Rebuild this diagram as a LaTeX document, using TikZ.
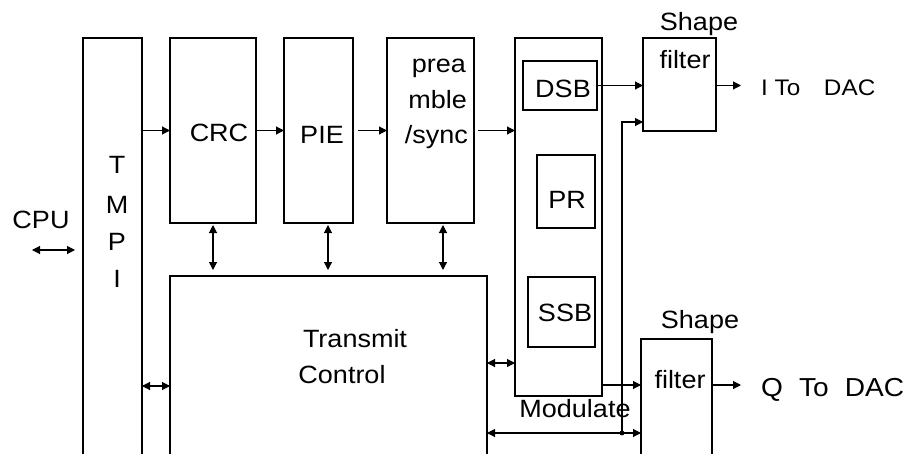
\documentclass[tikz,border=0pt]{standalone}
\usepackage{fontspec}
\setmainfont{Liberation Sans}[FakeStretch=1.08]
\usetikzlibrary{arrows.meta}
\begin{document}
\begin{tikzpicture}[x=1pt,y=-1pt,
  box/.style={draw, line width=1.3pt, inner sep=0pt, outer sep=0pt, anchor=north west},
  lbl/.style={anchor=base, inner sep=0pt, font=\fontsize{25}{29}\selectfont},
  arr/.style={line width=1.1pt, -{Triangle[length=8pt,width=8pt]}},
  darr/.style={line width=1.1pt, {Triangle[length=8pt,width=8pt]}-{Triangle[length=8pt,width=8pt]}}]
\useasboundingbox (0,0) rectangle (908,453);
\clip (0,0) rectangle (908,453);
% boxes
\node[box, minimum width=59pt, minimum height=440pt] (tmpi) at (83,38) {};
\node[box, minimum width=86pt, minimum height=185pt] (crc) at (170,38) {};
\node[box, minimum width=69pt, minimum height=185pt] (pie) at (284,38) {};
\node[box, minimum width=87pt, minimum height=185pt] (pre) at (387,38) {};
\node[box, minimum width=87pt, minimum height=358pt] (mod) at (515,38) {};
\node[box, minimum width=74pt, minimum height=49pt] (dsb) at (523,61) {};
\node[box, minimum width=58pt, minimum height=73pt] (pr) at (537,155) {};
\node[box, minimum width=67pt, minimum height=70pt] (ssb) at (528,277) {};
\node[box, minimum width=73pt, minimum height=93pt] (sf1) at (643,38) {};
\node[box, minimum width=71pt, minimum height=140pt] (sf2) at (641,339) {};
\node[box, minimum width=317pt, minimum height=200pt] (tc) at (170,276) {};
% labels
\node[lbl] (cpu) at (41,228) {CPU};
\node[lbl] (t1) at (117,173) {T};
\node[lbl] (t2) at (117,213) {M};
\node[lbl] (t3) at (117,250) {P};
\node[lbl] (t4) at (117,287) {I};
\node[lbl] (crct) at (219,141) {CRC};
\node[lbl] (piet) at (322,143) {PIE};
\node[lbl, anchor=base east] (pre1) at (466,72) {prea};
\node[lbl, anchor=base east] (pre2) at (467,108) {mble};
\node[lbl, anchor=base east] (pre3) at (468,143) {/sync};
\node[lbl] (dsbt) at (563,97) {DSB};
\node[lbl] (prt) at (567,208) {PR};
\node[lbl] (ssbt) at (565,321) {SSB};
\node[lbl] (shape1) at (699,30) {Shape};
\node[lbl] (filt1) at (685,68) {filter};
\node[lbl] (shape2) at (700,328) {Shape};
\node[lbl] (filt2) at (680,388) {filter};
\node[lbl] (modt) at (575,417) {Modulate};
\node[lbl] (trt) at (355,347) {Transmit};
\node[lbl] (ctt) at (342,383) {Control};
\node[lbl, anchor=base west, font=\fontsize{22.5}{26}\selectfont] (ilbl) at (761,95) {I\hspace{0.3em}To\hspace{1.05em}DAC};
\node[lbl, anchor=base west, font=\fontsize{26}{30}\selectfont] (qlbl) at (761,396) {Q\hspace{0.62em}To\hspace{0.62em}DAC};
% helper coordinates
\coordinate (cpuL) at (32,250);
\coordinate (cpuR) at (75,250);
\coordinate (xa) at (213,0);
\coordinate (xb) at (328,0);
\coordinate (xc) at (443,0);
\coordinate (ya) at (0,386);
\coordinate (yb) at (0,363);
\coordinate (yc) at (0,433);
\coordinate (yd) at (0,122);
\coordinate (ye) at (0,385);
\coordinate (dot) at (622,433);
\coordinate (iend) at (741,85.5);
\coordinate (qend) at (741,385);
% connectors
\draw[darr] (cpuL) -- (cpuR);
\draw[arr] (tmpi.east |- crc.west) -- (crc.west);
\draw[arr] (crc.east) -- (pie.west |- crc.east);
\draw[arr, shorten <=5pt] (pie.east) -- (pre.west);
\draw[arr, shorten <=4pt] (pre.east) -- (mod.west |- pre.east);
\draw[arr] (dsb.east) -- (sf1.west |- dsb.east);
\draw[arr] (sf1.east |- dsb.east) -- (iend);
\draw[darr, shorten <=2pt, shorten >=6pt] (crc.south -| xa) -- (tc.north -| xa);
\draw[darr, shorten <=2pt, shorten >=6pt] (pie.south -| xb) -- (tc.north -| xb);
\draw[darr, shorten <=2pt, shorten >=6pt] (pre.south -| xc) -- (tc.north -| xc);
\draw[darr] (tmpi.east |- ya) -- (tc.west |- ya);
\draw[darr] (tc.east |- yb) -- (mod.west |- yb);
\draw[darr] (tc.east |- yc) -- (sf2.west |- yc);
\fill (dot) circle (2.4pt);
\draw[arr] (dot) |- (sf1.west |- yd);
\draw[arr] (mod.east |- ye) -- (sf2.west |- ye);
\draw[arr] (sf2.east |- ye) -- (qend);
\end{tikzpicture}
\end{document}
